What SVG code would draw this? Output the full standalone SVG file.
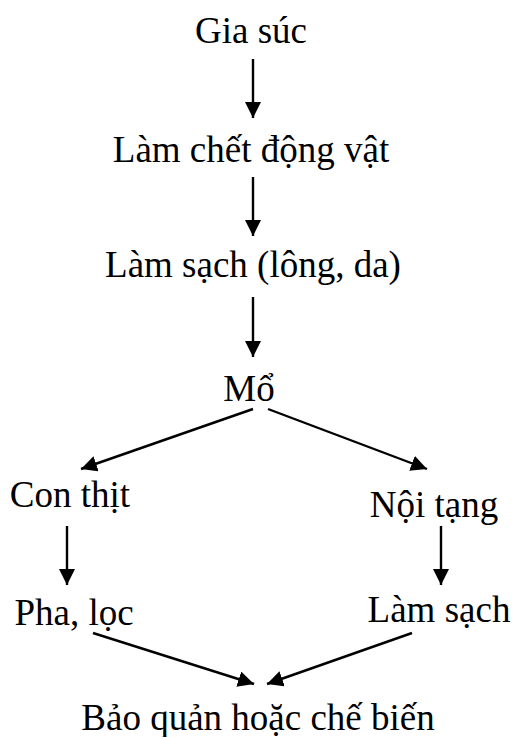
<svg xmlns="http://www.w3.org/2000/svg" width="513" height="737" viewBox="0 0 513 737">
<style>
text{font-family:"Liberation Serif","Times New Roman",serif;font-size:37px;fill:#000;text-anchor:middle}
.c line{stroke:#000;stroke-width:2.4;marker-end:url(#ah)}
</style>
<defs>
<marker id="ah" markerUnits="userSpaceOnUse" markerWidth="18" markerHeight="18" refX="16" refY="8" orient="auto">
<path d="M0,0 L16,8 L0,16 z" fill="#000"/>
</marker>
</defs>
<rect width="513" height="737" fill="#fff"/>
<g id="n1"><text x="251" y="43">Gia súc</text></g>
<g id="n2"><text x="251" y="162">Làm chết động vật</text></g>
<g id="n3"><text x="253" y="277">Làm sạch (lông, da)</text></g>
<g id="n4"><text x="249" y="401">Mổ</text></g>
<g id="n5"><text x="70" y="507">Con thịt</text></g>
<g id="n6"><text x="434" y="517">Nội tạng</text></g>
<g id="n7"><text x="74" y="625">Pha, lọc</text></g>
<g id="n8"><text x="439" y="622">Làm sạch</text></g>
<g id="n9"><text x="258" y="730">Bảo quản hoặc chế biến</text></g>
<g class="c" id="connectors">
<line x1="253" y1="59" x2="253" y2="118"/>
<line x1="253" y1="177" x2="253" y2="236"/>
<line x1="253" y1="297" x2="253" y2="357"/>
<line x1="253" y1="409" x2="81" y2="469"/>
<line x1="268" y1="409" x2="427" y2="469"/>
<line x1="67" y1="526" x2="67" y2="585"/>
<line x1="441" y1="526" x2="441" y2="585"/>
<line x1="93" y1="633" x2="254" y2="684"/>
<line x1="412" y1="633" x2="267" y2="684"/>
</g>
</svg>
